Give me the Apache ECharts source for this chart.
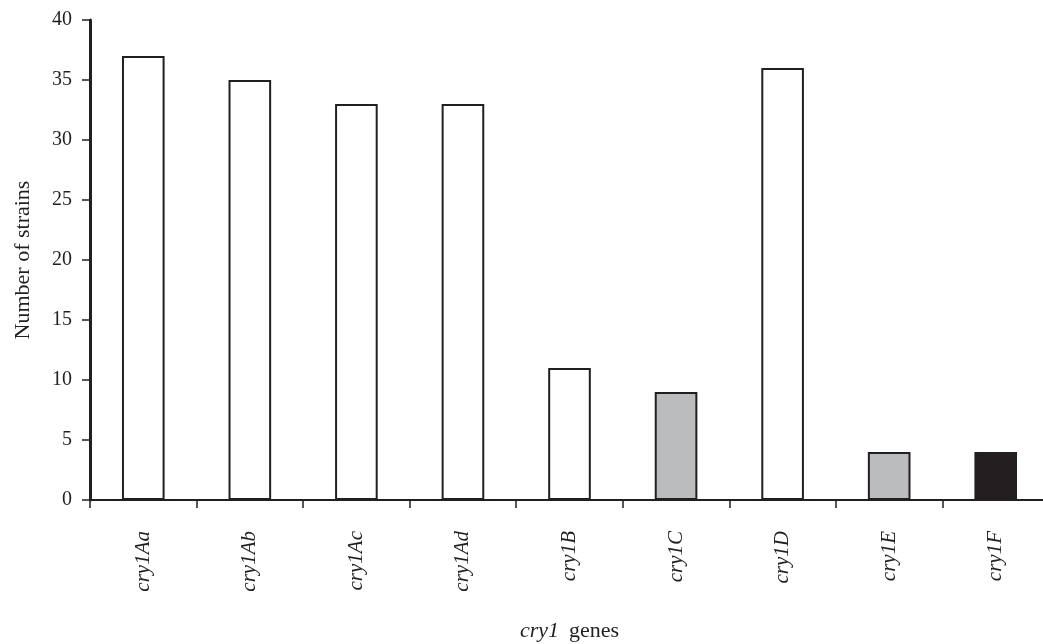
<!DOCTYPE html>
<html>
<head>
<meta charset="utf-8">
<script src="https://cdn.jsdelivr.net/npm/echarts@6/dist/echarts.min.js"></script>
<style>
html,body{margin:0;padding:0;background:#fff;}
#chart{width:1043px;height:644px;}
</style>
</head>
<body>
<div id="chart"></div>
<script>
var genes = ['cry1Aa', 'cry1Ab', 'cry1Ac', 'cry1Ad', 'cry1B', 'cry1C', 'cry1D', 'cry1E', 'cry1F'];
var strains = [37, 35, 33, 33, 11, 9, 36, 4, 4];
var fills = ['#ffffff', '#ffffff', '#ffffff', '#ffffff', '#ffffff', '#bbbcbe', '#ffffff', '#bbbcbe', '#231f20'];

var ink = '#231f20';
var serif = '"Liberation Serif", "DejaVu Serif", serif';

var myChart = echarts.init(document.getElementById('chart'));
var option = {
    backgroundColor: '#fff',
    animation: false,
    grid: {
        left: 90,
        top: 20,
        height: 480,
        width: 959,
        containLabel: false,
        outerBoundsMode: 'none'
    },
    xAxis: {
        type: 'category',
        data: genes,
        boundaryGap: true,
        axisLine: { lineStyle: { color: ink, width: 2 } },
        axisTick: { show: true, length: 8, lineStyle: { color: ink, width: 1.5 } },
        axisLabel: {
            rotate: 90,
            margin: 31,
            fontFamily: serif,
            fontStyle: 'italic',
            fontSize: 21,
            color: ink
        },
        name: '{i|cry1}   {n|genes}',
        nameLocation: 'middle',
        nameGap: 120,
        nameTextStyle: {
            rich: {
                i: { fontFamily: serif, fontStyle: 'italic', fontSize: 22, color: ink },
                n: { fontFamily: serif, fontSize: 22, color: ink }
            }
        }
    },
    yAxis: {
        type: 'value',
        min: 0,
        max: 40,
        interval: 5,
        splitLine: { show: false },
        axisLine: { show: true, lineStyle: { color: ink, width: 3 } },
        axisTick: { show: true, length: 8, lineStyle: { color: ink, width: 1.5 } },
        axisLabel: {
            margin: 18,
            fontFamily: serif,
            fontSize: 20,
            color: ink
        },
        name: 'Number of strains',
        nameLocation: 'middle',
        nameGap: 56,
        nameTextStyle: { fontFamily: serif, fontSize: 22, color: ink }
    },
    series: [{
        type: 'bar',
        barWidth: '40%',
        data: strains.map(function (v, i) {
            return {
                value: v,
                itemStyle: { color: fills[i], borderColor: ink, borderWidth: 2 }
            };
        })
    }]
};
myChart.setOption(option);
</script>
</body>
</html>
